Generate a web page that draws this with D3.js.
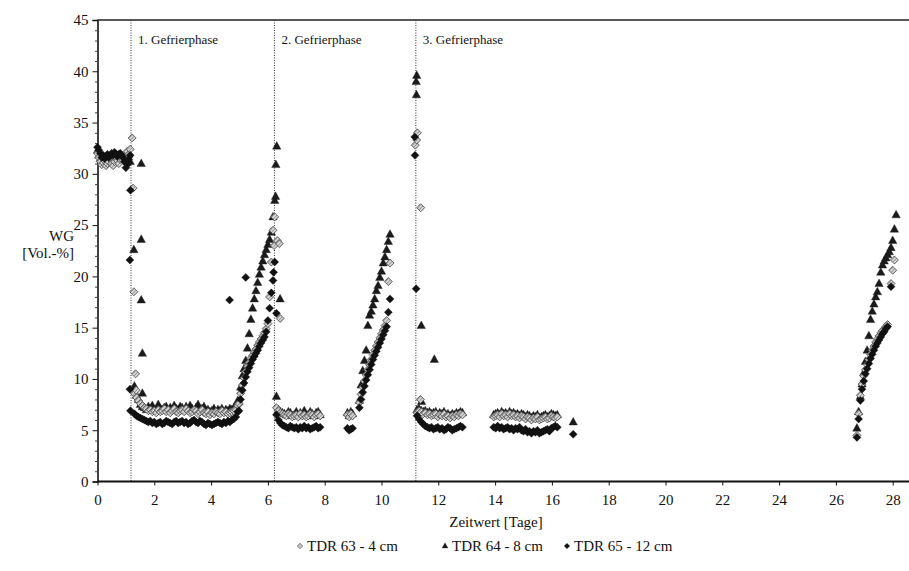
<!DOCTYPE html>
<html><head><meta charset="utf-8">
<script src="https://cdn.jsdelivr.net/npm/d3@7"></script>
<style>
body{margin:0;background:#fff}
svg{display:block}
</style>
</head><body>
<svg id="chart" width="909" height="571"></svg>
<script>
// ---------- DATA ----------
const seriesNames = ["TDR 63 - 4 cm", "TDR 64 - 8 cm", "TDR 65 - 12 cm"];
const yTicks = [0,5,10,15,20,25,30,35,40,45];
const xTicks = [0,2,4,6,8,10,12,14,16,18,20,22,24,26,28];
const phaseStart = [1.18, 6.23, 11.21];
const phaseLabels = ["1. Gefrierphase", "2. Gefrierphase", "3. Gefrierphase"];

// before freezing
const tPre = [0.00,0.05,0.10,0.15,0.20,0.25,0.30,0.35,0.40,0.45,0.50,0.55,0.60,0.65,0.70,0.75,0.80,0.85,0.90,0.95,1.00,1.05,1.10,1.15];
const pre63 = [32.0,31.6,31.2,30.9,31.1,31.3,30.8,31.0,31.2,31.4,31.0,30.8,31.2,31.5,31.3,31.0,31.4,31.6,31.3,31.5,31.8,32.2,31.9,32.4];
const pre64 = [32.3,31.8,31.5,31.3,31.4,31.5,31.2,31.4,31.6,31.5,31.3,31.2,31.5,31.6,31.4,31.3,31.6,31.7,31.4,31.6,31.5,31.8,31.9,31.2];
const pre65 = [32.6,32.3,32.0,31.6,31.8,31.5,31.7,31.9,31.6,31.8,32.0,31.8,32.1,31.9,31.7,31.9,32.0,31.8,31.6,31.2,30.6,30.9,31.4,31.8];

// 1st frozen plateau
const tP1 = [1.30,1.37,1.44,1.51,1.58,1.65,1.72,1.79,1.86,1.93,2.00,2.07,2.14,2.21,2.28,2.35,2.42,2.49,2.56,2.63,2.70,2.77,2.84,2.91,2.98,3.05,3.12,3.19,3.26,3.33,3.40,3.47,3.54,3.61,3.68,3.75,3.82,3.89,3.96,4.03,4.10,4.17,4.24,4.31,4.38,4.45,4.52,4.59,4.66,4.73,4.80,4.87,4.94];
const p1_63 = [8.6,8.2,7.9,7.6,7.4,7.2,7.1,6.9,7.0,6.8,6.9,6.7,7.0,6.8,6.9,7.1,6.8,7.0,6.7,6.9,7.1,6.8,6.7,6.9,7.0,6.8,7.1,6.9,6.7,6.8,7.0,6.9,6.6,6.8,7.0,6.7,6.6,6.8,6.5,6.7,6.6,6.8,6.7,6.6,6.9,6.7,6.8,6.6,6.7,6.8,6.9,7.0,7.4];
const p1_64 = [9.3,8.4,8.0,7.5,7.3,7.2,7.0,7.3,7.1,7.4,7.0,6.9,7.5,7.1,7.0,7.2,7.3,6.9,7.2,7.0,7.4,7.1,7.0,7.3,7.2,6.9,7.3,7.0,7.4,7.1,6.9,7.2,7.5,7.0,7.1,7.3,6.9,7.0,6.8,6.9,7.1,6.8,7.0,6.9,7.1,6.8,7.0,6.9,7.1,7.0,7.2,7.4,7.9];
const p1_65 = [6.6,6.4,6.3,6.2,6.1,6.0,5.9,5.8,5.9,5.7,5.8,5.6,5.7,5.8,5.6,5.7,5.9,5.8,5.7,5.6,5.8,5.9,5.7,5.8,5.9,5.7,5.8,5.6,5.7,5.9,6.0,5.8,5.7,5.9,5.8,5.6,5.5,5.7,5.6,5.5,5.6,5.7,5.8,5.7,5.6,5.8,5.7,5.9,5.8,6.0,6.1,6.3,6.8];

// 1st thaw
const tR1 = [4.98,5.04,5.10,5.16,5.22,5.28,5.34,5.40,5.46,5.52,5.58,5.64,5.70,5.76,5.82,5.88,5.94,6.00,6.06,6.12,6.18,6.24];
const r1_63 = [7.6,8.6,9.4,10.1,10.7,11.2,11.6,12.0,12.3,12.6,12.9,13.3,13.6,13.9,14.2,14.5,14.9,15.4,18.0,21.4,24.5,25.8];
const r1_64 = [7.8,9.2,10.3,11.0,11.8,13.0,14.4,15.8,16.9,17.8,18.6,19.4,20.2,20.9,21.5,22.1,22.6,23.1,23.6,24.3,25.8,27.4];
const r1_65 = [6.9,8.0,8.9,9.6,10.2,10.7,11.1,11.5,11.9,12.2,12.5,12.8,13.2,13.5,13.8,14.1,14.6,15.7,16.9,18.4,19.6,21.4];

// 2nd frozen plateau
const tP2 = [6.30,6.37,6.44,6.51,6.58,6.65,6.72,6.79,6.86,6.93,7.00,7.07,7.14,7.21,7.28,7.35,7.42,7.49,7.56,7.63,7.70,7.77,7.84];
const p2_63 = [7.2,6.9,6.7,6.6,6.5,6.4,6.6,6.5,6.3,6.4,6.5,6.3,6.6,6.4,6.5,6.3,6.4,6.6,6.5,6.3,6.5,6.6,6.4];
const p2_64 = [8.3,7.0,6.8,6.7,6.6,6.5,6.8,6.7,6.4,6.5,6.8,6.4,6.7,6.5,6.9,6.4,6.5,6.8,6.6,6.4,6.7,6.8,6.5];
const p2_65 = [6.5,6.0,5.7,5.5,5.4,5.3,5.2,5.4,5.3,5.2,5.3,5.1,5.3,5.2,5.4,5.2,5.3,5.1,5.2,5.3,5.4,5.2,5.3];

// short record near day 9
const tC = [8.80,8.86,8.92,8.98];
const c_63 = [6.5,6.3,6.6,6.4];
const c_64 = [6.7,6.4,6.8,6.6];
const c_65 = [5.2,5.0,5.1,5.2];

// 2nd thaw
const tR2 = [9.22,9.28,9.34,9.40,9.46,9.52,9.58,9.64,9.70,9.76,9.82,9.88,9.94,10.00,10.06,10.12,10.18,10.24,10.30];
const r2_63 = [7.7,8.5,9.2,9.8,10.4,10.9,11.4,11.9,12.4,12.8,13.2,13.6,14.0,14.4,14.8,15.2,15.7,19.5,21.3];
const r2_64 = [7.9,9.4,10.8,11.8,12.8,15.2,16.2,16.6,17.2,17.8,18.6,19.1,19.9,20.5,21.3,21.9,22.6,23.4,24.1];
const r2_65 = [7.2,8.0,8.7,9.3,9.9,10.4,10.9,11.4,11.9,12.3,12.7,13.1,13.5,13.9,14.3,14.7,15.1,16.5,17.8];

// 3rd frozen plateau
const tP3 = [11.25,11.32,11.40,11.47,11.54,11.62,11.69,11.76,11.83,11.91,11.98,12.05,12.13,12.20,12.27,12.34,12.42,12.49,12.56,12.64,12.71,12.78,12.85];
const p3_63 = [6.7,6.9,6.8,6.6,6.7,6.5,6.6,6.4,6.5,6.6,6.3,6.5,6.4,6.6,6.3,6.4,6.2,6.4,6.3,6.5,6.4,6.6,6.5];
const p3_64 = [7.0,7.1,6.9,6.8,6.9,6.7,6.8,6.6,6.7,6.8,6.5,6.7,6.6,6.8,6.5,6.6,6.4,6.6,6.5,6.7,6.6,6.8,6.7];
const p3_65 = [6.4,6.1,5.8,5.6,5.4,5.3,5.2,5.3,5.1,5.2,5.3,5.1,5.2,5.0,5.1,5.3,5.2,5.0,5.1,5.2,5.3,5.4,5.3];

// 4th record block
const tP4 = [13.95,14.02,14.09,14.16,14.23,14.30,14.37,14.44,14.51,14.58,14.65,14.72,14.79,14.86,14.93,15.00,15.07,15.14,15.21,15.28,15.35,15.42,15.49,15.56,15.63,15.70,15.77,15.84,15.91,15.98,16.05,16.12,16.19];
const p4_63 = [6.3,6.4,6.5,6.3,6.6,6.4,6.5,6.3,6.6,6.4,6.5,6.3,6.4,6.2,6.4,6.3,6.1,6.3,6.2,6.0,6.2,6.1,6.3,6.0,6.1,6.2,6.3,6.1,6.2,6.4,6.3,6.2,6.3];
const p4_64 = [6.5,6.6,6.7,6.5,6.8,6.6,6.7,6.5,6.8,6.6,6.7,6.5,6.6,6.4,6.6,6.5,6.3,6.5,6.4,6.2,6.4,6.3,6.5,6.2,6.3,6.4,6.5,6.3,6.4,6.6,6.5,6.4,6.5];
const p4_65 = [5.3,5.2,5.4,5.2,5.3,5.1,5.2,5.3,5.1,5.2,5.0,5.2,5.1,5.3,5.0,4.9,5.1,4.8,4.9,4.7,4.9,4.8,5.0,4.7,4.8,4.9,5.0,5.1,4.9,5.2,5.3,5.4,5.3];

// final thaw
const tF = [26.74,26.80,26.86,26.92,26.98,27.04,27.10,27.16,27.22,27.28,27.34,27.40,27.46,27.52,27.58,27.64,27.70,27.76,27.82,27.88,27.94,28.00,28.06,28.12];
const f_63 = [4.5,6.6,8.4,9.5,10.3,10.9,11.4,11.9,12.4,12.8,13.2,13.6,13.9,14.2,14.5,14.7,14.9,15.1,15.3,null,19.3,20.6,21.6,null];
const f_64 = [5.2,6.8,8.3,9.5,10.6,11.7,12.8,14.2,15.8,16.6,17.3,18.0,18.5,19.3,20.4,21.1,21.5,21.8,22.1,22.4,22.8,23.5,24.6,26.0];
const f_65 = [4.3,6.1,7.9,9.0,9.8,10.5,11.0,11.5,12.0,12.4,12.8,13.2,13.5,13.8,14.1,14.4,14.6,14.9,15.1,null,19.0,null,null,null];

// single readings (transitions, spikes, outliers): [day, value]
const extra63 = [[1.22,33.5],[1.25,28.6],[1.28,18.5],[1.34,10.5],[1.36,8.9],[6.22,23.0],[6.33,23.5],[6.40,23.2],[6.43,15.9],[11.26,34.0],[11.19,32.8],[11.24,33.3],[11.38,26.7],[11.37,8.0]];
const extra64 = [[1.54,31.0],[1.28,22.6],[1.54,23.6],[1.54,17.7],[1.58,12.5],[1.58,8.6],[6.31,32.7],[6.28,30.9],[6.27,27.8],[6.43,17.8],[11.24,39.6],[11.22,39.0],[11.23,37.7],[11.40,15.2],[11.86,11.9],[11.41,7.8],[16.75,5.8]];
const extra65 = [[1.16,28.4],[1.14,21.6],[1.14,9.0],[1.16,6.9],[4.65,17.7],[5.22,19.9],[6.20,20.4],[6.30,16.4],[11.17,33.6],[11.18,31.8],[11.22,18.8],[16.75,4.6]];

// ---------- BUILD POINT TABLES ----------
function zip(t, v){ return t.map((d,i)=>[d, v[i]]).filter(p=>p[1]!=null); }
const s63 = [].concat(zip(tPre,pre63),zip(tP1,p1_63),zip(tR1,r1_63),zip(tP2,p2_63),zip(tC,c_63),zip(tR2,r2_63),zip(tP3,p3_63),zip(tP4,p4_63),zip(tF,f_63),extra63);
const s64 = [].concat(zip(tPre,pre64),zip(tP1,p1_64),zip(tR1,r1_64),zip(tP2,p2_64),zip(tC,c_64),zip(tR2,r2_64),zip(tP3,p3_64),zip(tP4,p4_64),zip(tF,f_64),extra64);
const s65 = [].concat(zip(tPre,pre65),zip(tP1,p1_65),zip(tR1,r1_65),zip(tP2,p2_65),zip(tC,c_65),zip(tR2,r2_65),zip(tP3,p3_65),zip(tP4,p4_65),zip(tF,f_65),extra65);

// ---------- DRAW ----------
const FONT = "Liberation Serif";
const svg = d3.select("#chart");
const x = d3.scaleLinear().domain([0, 28]).range([97.5, 892.7]);
const y = d3.scaleLinear().domain([0, 45]).range([481.5, 20]);
const xRight = 909;

// hatched fill for TDR 63 markers
const defs = svg.append("defs");
const pat = defs.append("pattern").attr("id", "hatch").attr("patternUnits", "userSpaceOnUse")
  .attr("width", 2.4).attr("height", 2.4).attr("patternTransform", "rotate(45)");
pat.append("rect").attr("width", 2.4).attr("height", 2.4).attr("fill", "#d6d6d6");
pat.append("line").attr("x1", 0).attr("y1", 0).attr("x2", 0).attr("y2", 2.4).attr("stroke", "#5e5e5e").attr("stroke-width", 0.9);

const diamond = "M0,-4L4,0L0,4L-4,0Z";
const triangle = "M0,-4.6L4.2,3L-4.2,3Z";
const styles = [
  {data:s63, path:diamond, fill:"url(#hatch)", stroke:"#4a4a4a", sw:0.8},
  {data:s64, path:triangle, fill:"#1a1a1a", stroke:"#1a1a1a", sw:0.4},
  {data:s65, path:diamond, fill:"#111", stroke:"#111", sw:0.4}
];

function txt(sel, size){ return sel.style("font-family", FONT).style("font-size", size+"px").style("fill", "#111"); }

// phase separator lines
svg.append("g").selectAll("line").data(phaseStart).join("line")
  .attr("x1", d=>x(d)).attr("x2", d=>x(d))
  .attr("y1", y(45)).attr("y2", y(0))
  .attr("stroke", "#333").attr("stroke-width", 1).attr("stroke-dasharray", "1,1.5");
txt(svg.append("g").selectAll("text").data(phaseStart).join("text")
  .attr("x", d=>x(d)+7).attr("y", 44).text((d,i)=>phaseLabels[i]), 13);

// y axis
const yAxis = d3.axisLeft(y).tickValues(yTicks).tickSize(5).tickPadding(4).tickFormat(d3.format("d"));
const gy = svg.append("g").attr("transform", `translate(${x(0)},0)`).call(yAxis);
gy.select(".domain").attr("stroke", "#111").attr("stroke-width", 1.6);
gy.selectAll(".tick line").attr("stroke", "#111");
txt(gy.selectAll(".tick text"), 15);
const yMinor = d3.axisLeft(y).tickValues(d3.range(0,46).filter(v=>v%5!==0)).tickSize(2.5).tickFormat("");
const gym = svg.append("g").attr("transform", `translate(${x(0)},0)`).call(yMinor);
gym.select(".domain").remove();
gym.selectAll(".tick line").attr("stroke", "#444");

// x axis
const xAxis = d3.axisBottom(x).tickValues(xTicks).tickSize(4).tickPadding(9).tickFormat(d3.format("d"));
const gx = svg.append("g").attr("transform", `translate(0,${y(0)})`).call(xAxis);
gx.select(".domain").remove();
gx.selectAll(".tick line").attr("stroke", "#111");
txt(gx.selectAll(".tick text"), 15);
svg.append("line").attr("x1", x(0)).attr("x2", xRight).attr("y1", y(0)).attr("y2", y(0))
  .attr("stroke", "#111").attr("stroke-width", 2);
// top frame
svg.append("line").attr("x1", x(0)).attr("x2", xRight).attr("y1", y(45)).attr("y2", y(45))
  .attr("stroke", "#222").attr("stroke-width", 1.6);

// points: draw TDR64 first, then TDR63, then TDR65
[1,0,2].forEach(k=>{
  const s = styles[k];
  svg.append("g").selectAll("path").data(s.data).join("path")
    .attr("transform", d=>`translate(${x(d[0])},${y(d[1])})`)
    .attr("d", s.path).attr("fill", s.fill).attr("stroke", s.stroke).attr("stroke-width", s.sw);
});

// axis titles
txt(svg.append("text").attr("x", 74).attr("y", 241).attr("text-anchor", "end").text("WG"), 15);
txt(svg.append("text").attr("x", 74).attr("y", 258).attr("text-anchor", "end").text("[Vol.-%]"), 15);
txt(svg.append("text").attr("x", 496).attr("y", 527).attr("text-anchor", "middle").text("Zeitwert [Tage]"), 15);

// legend
const legX = [300, 445, 567];
const lg = svg.append("g");
seriesNames.forEach((n,i)=>{
  const s = styles[i];
  lg.append("path").attr("transform", `translate(${legX[i]},546) scale(0.7)`)
    .attr("d", s.path).attr("fill", s.fill).attr("stroke", s.stroke).attr("stroke-width", s.sw);
  txt(lg.append("text").attr("x", legX[i]+7).attr("y", 551).text(n), 15);
});
</script>
</body></html>
